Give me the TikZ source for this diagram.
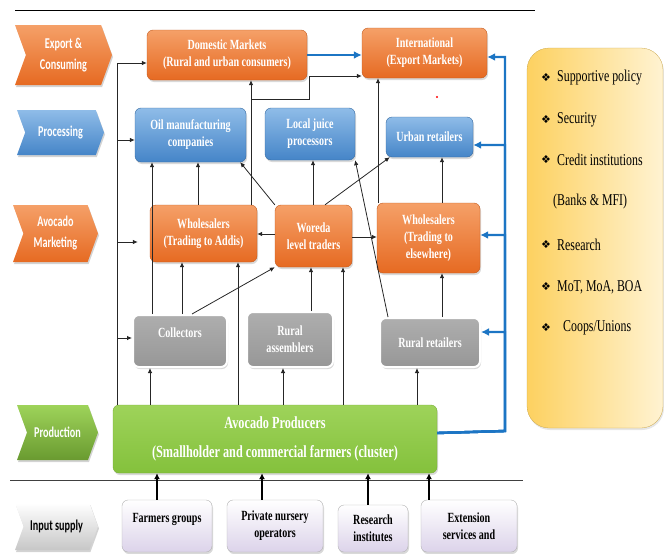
\documentclass[tikz,border=0pt]{standalone}
\usepackage{fontspec}
\setmainfont{Liberation Serif}[FakeStretch=0.72]
\newfontfamily\stageFont{Carlito}[FakeStretch=0.68]
\newfontfamily\dingFont{DejaVu Sans}
\usepackage{tikz}
\usetikzlibrary{arrows.meta, shapes.symbols, shadows}
\definecolor{avOrange}{HTML}{E66A22}
\definecolor{avOrangeLt}{HTML}{F5A068}
\definecolor{avBlue}{HTML}{4585C8}
\definecolor{avBlueLt}{HTML}{8FBCE8}
\definecolor{avGray}{HTML}{979797}
\definecolor{avGrayLt}{HTML}{AEAEAE}
\definecolor{avGreen}{HTML}{84C13C}
\definecolor{avGreenLt}{HTML}{9ED35A}
\definecolor{avLilac}{HTML}{DCD3EA}
\definecolor{avYellow}{HTML}{FDD160}
\definecolor{avYellowLt}{HTML}{FFF3D2}
\definecolor{avLink}{HTML}{1C75C4}
\newcommand\boxFont{\bfseries\fontsize{14}{17}\selectfont}
\newcommand\prodFont{\bfseries\fontsize{17}{29}\selectfont}
\newcommand\stageText{\stageFont\bfseries\fontsize{15}{21}\selectfont}
\newcommand\panelFont{\fontsize{16.5}{20}\selectfont}
\newcommand\bulletMark{{\dingFont\fontsize{11}{13}\selectfont ❖}}
\tikzset{
    box/.style={rectangle, rounded corners=6pt, align=center, text=white, font=\boxFont,
        inner sep=2pt, drop shadow={opacity=0.3, shadow xshift=1pt, shadow yshift=-2pt}},
    orangeBox/.style={box, top color=avOrangeLt, bottom color=avOrange, draw=avOrange!85!black},
    blueBox/.style={box, top color=avBlueLt, bottom color=avBlue, draw=avBlue!80!black},
    grayBox/.style={box, top color=avGrayLt, bottom color=avGray, draw=white, line width=2pt},
    greenBox/.style={box, top color=avGreenLt, bottom color=avGreen, draw=avGreen!90!black, font=\prodFont},
    inputBox/.style={box, top color=white, bottom color=avLilac, draw=black!30, text=black},
    stage/.style={signal, signal to=east, signal from=west, signal pointer angle=140,
        align=center, text=white, font=\stageText, inner sep=1pt,
        drop shadow={opacity=0.35, shadow xshift=1pt, shadow yshift=-2pt}},
    flow/.style={-{Latex[length=5pt, width=4.5pt]}, line width=0.8pt, black!85},
    inputFlow/.style={-{Latex[length=6pt, width=6pt]}, line width=2.2pt, black},
    supportFlow/.style={-{Latex[length=8pt, width=8pt]}, line width=2.4pt, avLink},
}

\begin{document}
\begin{tikzpicture}[x=1pt, y=-1pt]
    \useasboundingbox (0,0) rectangle (664,554);

    % stages of the chain
    \node[stage, top color=avOrangeLt, bottom color=avOrange, minimum width=97pt, minimum height=60pt] (stExport) at (63.5,55) {Export \&\\Consuming};
    \node[stage, top color=avBlueLt, bottom color=avBlue, minimum width=87pt, minimum height=45pt] (stProc) at (60.5,132.5) {Processing};
    \node[stage, top color=avOrangeLt, bottom color=avOrange, minimum width=85pt, minimum height=57pt] (stMarket) at (55.5,233.5) {Avocado\\Marketing};
    \node[stage, top color=avGreenLt, bottom color=avGreen!80!black, minimum width=81pt, minimum height=55pt] (stProd) at (57.5,432.5) {Production};
    \node[stage, top color=white, bottom color=black!22, text=black, minimum width=83pt, minimum height=47pt] (stInput) at (56.5,526.5) {Input supply};

    \draw[line width=0.8pt] (15,10) -- (535,10);
    \draw[line width=0.8pt, black!75] (10,480) -- (523,480);

    % actors
    \node[orangeBox, minimum width=160pt, minimum height=50pt] (dom) at (227,55) {Domestic Markets\\(Rural and urban consumers)};
    \node[orangeBox, minimum width=125pt, minimum height=50pt] (intl) at (424.5,53) {International\\(Export Markets)};
    \node[blueBox, minimum width=111pt, minimum height=54pt] (oil) at (190.5,135) {Oil manufacturing\\companies};
    \node[blueBox, minimum width=90pt, minimum height=52pt] (juice) at (310,134) {Local juice\\processors};
    \node[blueBox, minimum width=87pt, minimum height=40pt] (urban) at (429.5,137) {Urban retailers};
    \node[orangeBox, minimum width=107pt, minimum height=57pt] (whAddis) at (203.5,233.5) {Wholesalers\\(Trading to Addis)};
    \node[orangeBox, minimum width=77pt, minimum height=62pt] (woreda) at (313.5,236) {Woreda\\level traders};
    \node[orangeBox, minimum width=103pt, minimum height=70pt] (whElse) at (428.5,238) {Wholesalers\\(Trading to\\elsewhere)};
    \node[grayBox, minimum width=94pt, minimum height=52pt] (coll) at (180,341) {Collectors\\\mbox{}};
    \node[grayBox, minimum width=86pt, minimum height=55pt] (rAssem) at (290,339.5) {Rural\\assemblers};
    \node[grayBox, minimum width=100pt, minimum height=49pt] (rRetail) at (430,342.5) {Rural retailers};
    \node[greenBox, minimum width=324pt, minimum height=68pt] (prod) at (275,439) {Avocado Producers\\(Smallholder and commercial farmers (cluster)};
    \node[inputBox, minimum width=90pt, minimum height=52pt] (farm) at (167,526) {Farmers groups\\\mbox{}};
    \node[inputBox, minimum width=96pt, minimum height=52pt] (nursery) at (275,526) {Private nursery\\operators};
    \node[inputBox, minimum width=70pt, minimum height=47pt] (research) at (373,528.5) {Research\\institutes};
    \node[inputBox, minimum width=96pt, minimum height=52pt] (extension) at (469,526) {Extension\\services and};

    % enabling environment
    \node[rounded corners=22pt, left color=avYellow, right color=avYellowLt, draw=avYellow!80!black, line width=0.3pt,
        minimum width=136pt, minimum height=380pt, drop shadow={opacity=0.2, shadow xshift=1pt, shadow yshift=-2pt}] (support) at (595,238) {};
    \node[anchor=center] (b1) at (546,78) {\bulletMark};
    \node[anchor=west, font=\panelFont, inner sep=0pt] (t1) at (557,78) {Supportive policy};
    \node[anchor=center] (b2) at (546,120) {\bulletMark};
    \node[anchor=west, font=\panelFont, inner sep=0pt] (t2) at (557,120) {Security};
    \node[anchor=center] (b3) at (546,160) {\bulletMark};
    \node[anchor=west, font=\panelFont, inner sep=0pt] (t3) at (557,160) {Credit institutions};
    \node[anchor=west, font=\panelFont, inner sep=0pt] (t3b) at (553,202) {(Banks \& MFI)};
    \node[anchor=center] (b4) at (546,245) {\bulletMark};
    \node[anchor=west, font=\panelFont, inner sep=0pt] (t4) at (557,245) {Research};
    \node[anchor=center] (b5) at (546,287) {\bulletMark};
    \node[anchor=west, font=\panelFont, inner sep=0pt] (t5) at (557,287) {MoT, MoA, BOA};
    \node[anchor=center] (b6) at (546,328) {\bulletMark};
    \node[anchor=west, font=\panelFont, inner sep=0pt] (t6) at (563,328) {Coops/Unions};

    \fill[red] (437,97) circle (1.2pt);

    % producers straight to the markets
    \draw[flow] (prod.north -| 117,0) |- (dom.west |- 0,63);
    \draw[flow] (prod.north -| 117,0) |- (oil.west |- 0,140);
    \draw[flow, shorten >=12pt] (prod.north -| 117,0) |- (whAddis.west |- 0,242);
    \draw[flow] (prod.north -| 117,0) |- (coll.west |- 0,338);

    % producers up the chain
    \draw[flow] (prod.north -| 150,0) -- (coll.south -| 150,0);
    \draw[flow] (prod.north -| 238,0) -- (whAddis.south -| 238,0);
    \draw[flow] (prod.north -| 283,0) -- (rAssem.south -| 283,0);
    \draw[flow] (prod.north -| 343,0) -- (woreda.south -| 343,0);
    \draw[flow] (prod.north -| 417,0) -- (rRetail.south -| 417,0);

    % collectors and assemblers
    \draw[flow] (coll.north -| 152,0) -- (oil.south -| 152,0);
    \draw[flow] (coll.north -| 182,0) -- (whAddis.south -| 182,0);
    \draw[flow] (coll.north -| 192,0) -- (woreda.south west);
    \draw[flow] (rAssem.north -| 311,0) -- (woreda.south -| 311,0);

    % wholesalers and traders
    \draw[flow] (whAddis.north -| 198,0) -- (oil.south -| 198,0);
    \draw[flow] (whAddis.north -| 251,0) -- (dom.south -| 251,0);
    \draw[flow] (whAddis.north -| 251,0) -- (251,99) -| (309,76) -- (intl.west |- 0,76);
    \draw[flow] (woreda.west |- 0,234) -- (whAddis.east |- 0,234);
    \draw[flow] (woreda.east |- 0,237) -- (whElse.west |- 0,237);
    \draw[flow] (woreda.north -| 313,0) -- (juice.south -| 313,0);
    \draw[flow] (woreda.north west) -- ([xshift=-6pt]oil.south east);
    \draw[flow] (woreda.north -| 325,0) -- ([xshift=4pt]urban.south west);
    \draw[flow] (whElse.north -| 378,0) -- (intl.south -| 378,0);
    \draw[flow] (whElse.north -| 442,0) -- (urban.south -| 442,0);
    \draw[flow] (rRetail.north -| 442,0) -- (whElse.south -| 442,0);
    \draw[flow] (rRetail.north -| 388,0) -- (juice.south east);

    % support lines
    \draw[supportFlow] (dom.east) -- (intl.west |- dom.east);
    \draw[supportFlow] (prod.east |- 0,433) -- (505,431) |- (intl.east |- 0,57);
    \draw[supportFlow] (prod.east |- 0,433) -- (505,431) |- (urban.east |- 0,145);
    \draw[supportFlow] (prod.east |- 0,433) -- (505,431) |- (whElse.east |- 0,235);
    \draw[supportFlow] (prod.east |- 0,433) -- (505,431) |- (rRetail.east |- 0,332);

    % input suppliers
    \draw[inputFlow] (farm.north -| 157,0) -- (prod.south -| 157,0);
    \draw[inputFlow] (nursery.north -| 262,0) -- (prod.south -| 262,0);
    \draw[inputFlow] (research.north -| 368,0) -- (prod.south -| 368,0);
    \draw[inputFlow] (extension.north -| 429,0) -- (prod.south -| 429,0);
\end{tikzpicture}
\end{document}
